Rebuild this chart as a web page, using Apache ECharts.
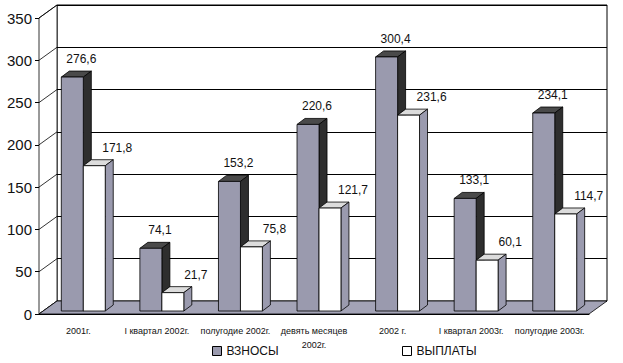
<!DOCTYPE html>
<html>
<head>
<meta charset="utf-8">
<script src="https://cdn.jsdelivr.net/npm/echarts@6/dist/echarts.min.js"></script>
<style>html,body{margin:0;padding:0;background:#fff;}#c{width:623px;height:363px;}</style>
</head>
<body>
<div id="c"></div>
<script>
var categories = ['2001г.', 'I квартал 2002г.', 'полугодие 2002г.', 'девять месяцев\n2002г.', '2002 г.', 'I квартал 2003г.', 'полугодие 2003г.'];
var vznosy = [276.6, 74.1, 153.2, 220.6, 300.4, 133.1, 234.1];
var vyplaty = [171.8, 21.7, 75.8, 121.7, 231.6, 60.1, 114.7];
var yTicks = [0, 50, 100, 150, 200, 250, 300, 350];

var FONT = 'Liberation Sans, Arial, sans-serif';
var DX = 18, DY = -13;       // depth of the chart box
var BDX = 8, BDY = -6;       // depth of a bar
var GRAY = '#9a9aae';

function fmt(v) { return String(v).replace('.', ','); }

function makeBar(f0, f1, front, top, side, labDx) {
  return function (params, api) {
    var idx = api.value(0), v = api.value(1);
    var c = api.coord([idx, v]);
    var c0 = api.coord([idx, 0]);
    var bw = api.size([1, 0])[0];
    var x0 = c[0] + f0 * bw, x1 = c[0] + f1 * bw;
    var yt = c[1] - 3, yb = c0[1] - 3;
    var ls = {stroke: '#000', lineWidth: 0.8};
    return {
      type: 'group',
      children: [
        {type: 'polygon', shape: {points: [[x0, yt], [x1, yt], [x1 + BDX, yt + BDY], [x0 + BDX, yt + BDY]]},
          style: Object.assign({fill: top}, ls)},
        {type: 'polygon', shape: {points: [[x1, yt], [x1 + BDX, yt + BDY], [x1 + BDX, yb + BDY], [x1, yb]]},
          style: Object.assign({fill: side}, ls)},
        {type: 'rect', shape: {x: x0, y: yt, width: x1 - x0, height: yb - yt},
          style: Object.assign({fill: front}, ls)},
        {type: 'text', x: (x0 + x1) / 2 + labDx, y: yt - 18,
          style: {text: fmt(v), fill: '#111', font: '12px ' + FONT, align: 'center', verticalAlign: 'middle'}}
      ]
    };
  };
}

function boxItem(params, api) {
  var cs = params.coordSys;
  var L = cs.x, R = cs.x + cs.width, T = cs.y, B = cs.y + cs.height;
  var ch = [];
  ch.push({type: 'polygon', shape: {points: [[L, T], [L, B], [L + DX, B + DY], [L + DX, T + DY]]},
    style: {fill: '#fff', stroke: '#000', lineWidth: 0.8}});
  yTicks.forEach(function (t) {
    var y = api.coord([0, t])[1];
    ch.push({type: 'line', shape: {x1: L, y1: y, x2: L + DX, y2: y + DY}, style: {stroke: '#000', lineWidth: 0.8}});
  });
  ch.push({type: 'polygon', shape: {points: [[L, B], [R, B], [R + DX, B + DY], [L + DX, B + DY]]},
    style: {fill: '#a3a3b6', stroke: '#000', lineWidth: 0.8}});
  return {type: 'group', children: ch};
}

var chart = echarts.init(document.getElementById('c'), null, {renderer: 'svg'});
chart.setOption({
  backgroundColor: '#fff',
  animation: false,
  textStyle: {fontFamily: FONT},
  grid: [
    {left: 39 + DX, right: 34 - DX, top: 18 + DY, bottom: 49 - DY, show: true, backgroundColor: '#fff', borderColor: '#000', borderWidth: 1},
    {left: 39, right: 34, top: 18, bottom: 49}
  ],
  xAxis: [
    {gridIndex: 0, type: 'category', data: categories, show: false},
    {gridIndex: 1, type: 'category', data: categories,
      axisLine: {lineStyle: {color: '#000', width: 1}},
      axisTick: {length: 4, lineStyle: {color: '#000'}},
      axisLabel: {color: '#111', fontSize: 9, margin: 10, lineHeight: 14, interval: 0, fontFamily: FONT}}
  ],
  yAxis: [
    {gridIndex: 0, type: 'value', min: 0, max: 350, interval: 50,
      axisLabel: {show: false}, axisLine: {show: false}, axisTick: {show: false},
      splitLine: {lineStyle: {color: '#000', width: 1}}},
    {gridIndex: 1, type: 'value', min: 0, max: 350, interval: 50,
      axisLine: {show: true, lineStyle: {color: '#000', width: 1}},
      axisTick: {show: true, length: 4, lineStyle: {color: '#000'}},
      axisLabel: {color: '#111', fontSize: 15, margin: 7, fontFamily: FONT},
      splitLine: {show: false}}
  ],
  legend: [
    {data: ['ВЗНОСЫ'], left: 212, top: 345, padding: 0, icon: 'rect', itemWidth: 9, itemHeight: 9,
      itemStyle: {borderColor: '#000', borderWidth: 1}, textStyle: {fontSize: 12, color: '#111', fontFamily: FONT}},
    {data: ['ВЫПЛАТЫ'], left: 402, top: 345, padding: 0, icon: 'rect', itemWidth: 9, itemHeight: 9,
      itemStyle: {borderColor: '#000', borderWidth: 1}, textStyle: {fontSize: 12, color: '#111', fontFamily: FONT}}
  ],
  series: [
    {type: 'custom', name: 'box', xAxisIndex: 1, yAxisIndex: 1, renderItem: boxItem, data: [[0, 0]], silent: true},
    {type: 'custom', name: 'ВЗНОСЫ', xAxisIndex: 1, yAxisIndex: 1, itemStyle: {color: GRAY},
      renderItem: makeBar(-0.216, 0.064, GRAY, '#4a4a4a', '#2e2e2e', 9),
      data: vznosy.map(function (v, i) { return [i, v]; })},
    {type: 'custom', name: 'ВЫПЛАТЫ', xAxisIndex: 1, yAxisIndex: 1, itemStyle: {color: '#fff'},
      renderItem: makeBar(0.064, 0.343, '#fff', '#dcdcdc', GRAY, 23),
      data: vyplaty.map(function (v, i) { return [i, v]; })}
  ]
});
</script>
</body>
</html>
